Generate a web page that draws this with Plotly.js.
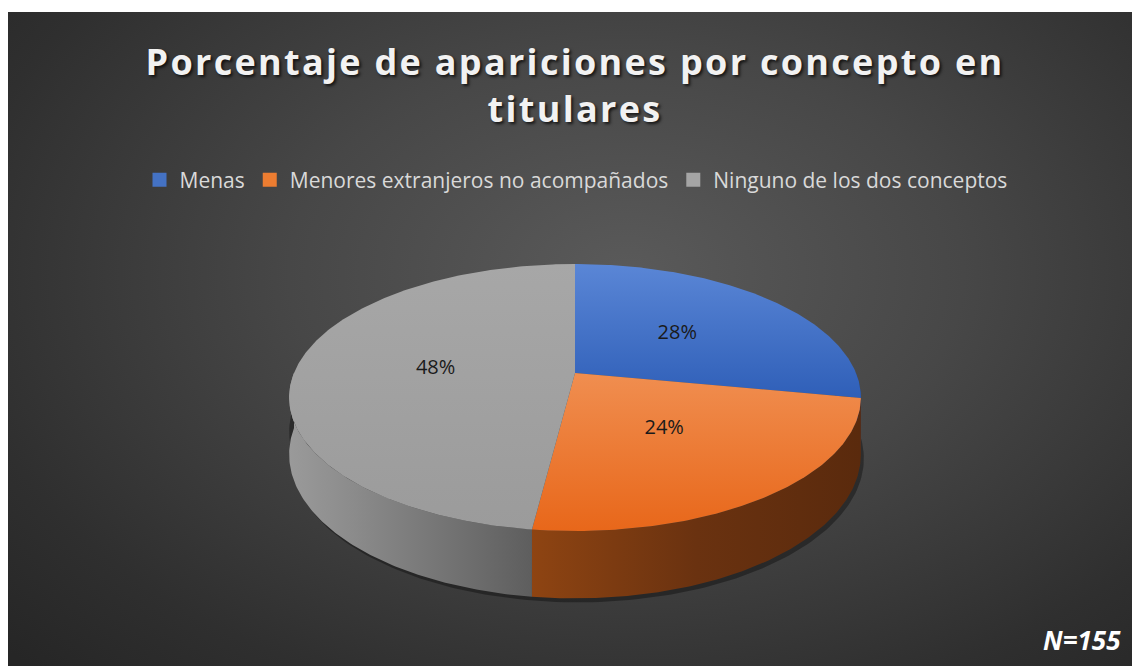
<!DOCTYPE html>
<html>
<head>
<meta charset="utf-8">
<script src="https://cdn.plot.ly/plotly-3.0.1.min.js"></script>
<style>
  html, body { margin: 0; padding: 0; background: #ffffff; }
  #wrap { position: relative; width: 1132px; height: 666px; overflow: hidden; }
  #bg { position: absolute; left: 8px; top: 12px; width: 1124px; height: 654px;
        background: radial-gradient(ellipse 75% 85% at 55% 40%, #5a5a5a 0%, #474747 40%, #2f2f2f 80%, #262626 100%); }
  #chart { position: absolute; left: 0; top: 0; width: 1132px; height: 666px; }
  .gtitle { letter-spacing: 2.3px; }
</style>
</head>
<body>
<div id="wrap"><div id="bg"></div><div id="chart"></div></div>
<script>
// ---- data ----
const categories = ['Menas', 'Menores extranjeros no acompañados', 'Ninguno de los dos conceptos'];
const values = [28, 24, 48];
const valueLabels = ['28%', '24%', '48%'];
const sampleSize = 155;

// ---- styling ----
const legendColors = ['#4472c4', '#ed7d31', '#a5a5a5'];
const topGradients = [
  [[0, '#2f5fb8'], [1, '#5a86d6']],
  [[0, '#e8671a'], [1, '#f08e50']],
  [[0, '#9b9b9b'], [1, '#a7a7a7']]
];
const wallGradients = [
  [[0, '#2c4f94'], [1, '#213d75']],
  [[0, '#8e4412'], [0.5, '#6a3210'], [1, '#5a2a0d']],
  [[0, '#9a9a9a'], [0.25, '#8c8c8c'], [1, '#5e5e5e']]
];

// ---- pie geometry (screen-like units, 1 unit = 1 px) ----
const CX = 575, CY = 373, R = 281, B = 129, P = 0.1835, D = 55;
function proj(phi, r, h) {
  const u = Math.sin(phi) * r, v = Math.cos(phi) * r;
  const s = 1 / (1 + P * v);
  return [CX + R * u * s, CY - B * v * s + D * h * s];
}
const total = values.reduce((a, b) => a + b, 0);
const deg = Math.PI / 180;
const traces = [];
const tops = [];
let cum = 0;
const labelX = [], labelY = [];
values.forEach((val, i) => {
  const a0 = cum / total * 360, a1 = (cum + val) / total * 360;
  cum += val;
  // top face
  const tx = [CX], ty = [CY];
  const n = Math.max(8, Math.round((a1 - a0) * 1.5));
  for (let k = 0; k <= n; k++) {
    const a = (a0 + (a1 - a0) * k / n) * deg;
    const p = proj(a, 1, 0); tx.push(p[0]); ty.push(p[1]);
  }
  tx.push(CX); ty.push(CY);
  tops.push({
    type: 'scatter', mode: 'lines', x: tx, y: ty, fill: 'toself',
    line: { width: 0 }, fillcolor: legendColors[i],
    fillgradient: { type: 'vertical', colorscale: topGradients[i] },
    hoverinfo: 'skip', showlegend: false
  });
  // front wall (visible part)
  const w0 = Math.max(a0, 90), w1 = Math.min(a1, 270);
  if (w1 > w0) {
    const wx = [], wy = [];
    const m = Math.max(4, Math.round((w1 - w0) * 1.5));
    for (let k = 0; k <= m; k++) {
      const a = (w0 + (w1 - w0) * k / m) * deg;
      const p = proj(a, 1, 0); wx.push(p[0]); wy.push(p[1]);
    }
    for (let k = m; k >= 0; k--) {
      const a = (w0 + (w1 - w0) * k / m) * deg;
      const p = proj(a, 1, 1); wx.push(p[0]); wy.push(p[1]);
    }
    wx.push(wx[0]); wy.push(wy[0]);
    traces.push({
      type: 'scatter', mode: 'lines', x: wx, y: wy, fill: 'toself',
      line: { width: 0 }, fillcolor: legendColors[i],
      fillgradient: { type: 'horizontal', colorscale: wallGradients[i] },
      hoverinfo: 'skip', showlegend: false
    });
  }
  const mid = (a0 + a1) / 2 * deg;
  const lp = proj(mid, 0.5, 0);
  labelX.push(lp[0]); labelY.push(lp[1]);
});

// subtle shadow under the pie
const sx = [], sy = [];
for (let k = 0; k <= 180; k++) {
  const a = (70 + 220 * k / 180) * deg;
  const p = proj(a, 1.0, 1); sx.push(p[0] + 3); sy.push(p[1] + 4);
}
for (let k = 180; k >= 0; k--) {
  const a = (70 + 220 * k / 180) * deg;
  const p = proj(a, 1, 0.6); sx.push(p[0]); sy.push(p[1]);
}
const shadow = { type: 'scatter', mode: 'lines', x: sx, y: sy, fill: 'toself',
  line: { width: 0 }, fillcolor: 'rgba(0,0,0,0.35)', hoverinfo: 'skip', showlegend: false };

const labelsTrace = {
  type: 'scatter', mode: 'text', x: labelX, y: labelY, text: valueLabels,
  textposition: 'middle center',
  textfont: { family: 'Open Sans, sans-serif', size: 20, color: '#1a1a1a' },
  hoverinfo: 'skip', showlegend: false
};

const legendTraces = categories.map((c, i) => ({
  type: 'scatter', mode: 'markers', x: [null], y: [null], name: c,
  marker: { symbol: 'square', size: 14, color: legendColors[i] }
}));

const data = [shadow, ...traces, ...tops, labelsTrace, ...legendTraces];

const layout = {
  width: 1132, height: 666,
  margin: { l: 0, r: 0, t: 0, b: 0 },
  paper_bgcolor: 'rgba(0,0,0,0)', plot_bgcolor: 'rgba(0,0,0,0)',
  xaxis: { range: [0, 1132], visible: false, fixedrange: true },
  yaxis: { range: [666, 0], visible: false, fixedrange: true },
  showlegend: true,
  title: {
    text: 'Porcentaje de apariciones por concepto en<br>titulares',
    x: 0.5 + 9 / 1132, xanchor: 'center', y: 1 - 75 / 666, yanchor: 'middle', yref: 'container',
    font: { family: 'Open Sans, sans-serif', size: 36, weight: 700, color: '#f2f2f2',
            shadow: '2px 2px 3px rgba(0,0,0,0.7)' }
  },
  legend: {
    orientation: 'h', x: 0.5 + 10 / 1132, xanchor: 'center', y: 1 - 180 / 666, yanchor: 'middle',
    font: { family: 'Open Sans, sans-serif', size: 21, color: '#d9d9d9' },
    bgcolor: 'rgba(0,0,0,0)', itemclick: false, itemdoubleclick: false
  },
  annotations: [{
    text: 'N=' + sampleSize, xref: 'x', yref: 'y', x: 1123, y: 640,
    xanchor: 'right', yanchor: 'middle', showarrow: false,
    font: { family: 'Open Sans, sans-serif', size: 26, weight: 700, style: 'italic', color: '#ffffff' }
  }],
  hovermode: false
};

Plotly.newPlot('chart', data, layout, { displayModeBar: false, staticPlot: true });
</script>
</body>
</html>
